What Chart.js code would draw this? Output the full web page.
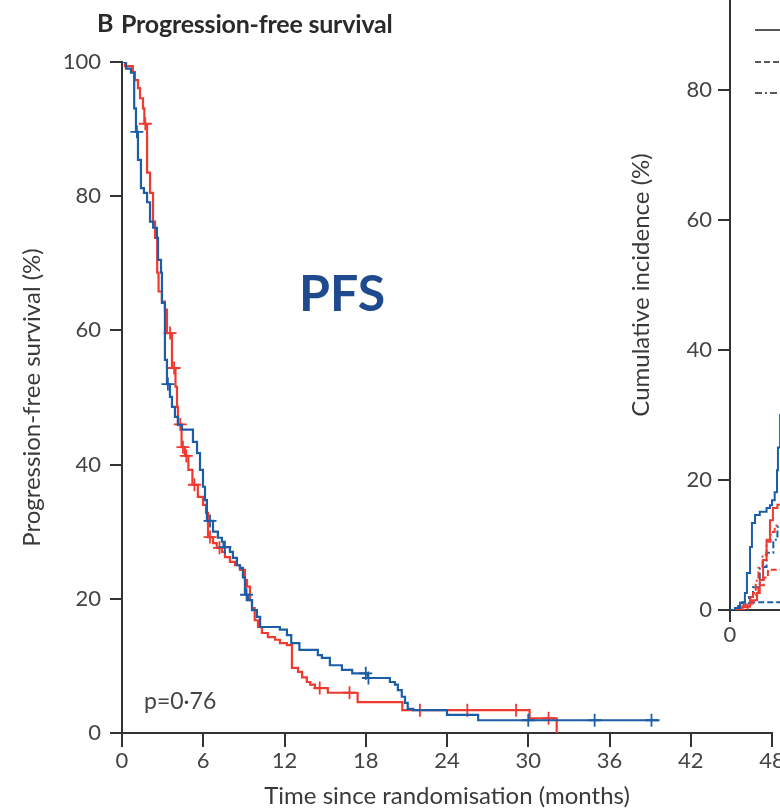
<!DOCTYPE html>
<html><head><meta charset="utf-8">
<script src="https://cdn.jsdelivr.net/npm/chart.js@4.4.1/dist/chart.umd.min.js"></script>
<style>
html,body{margin:0;padding:0;background:#fff;overflow:hidden;}
#wrap{position:relative;width:780px;height:812px;overflow:hidden;background:#fff;}
canvas{position:absolute;}
#c1{left:0;top:0;}
#c2{left:620px;top:-80px;}
.txt{position:absolute;white-space:nowrap;font-family:Lato,"Open Sans",sans-serif;line-height:1;}
#panel{left:97px;top:10px;font-size:25px;font-weight:bold;color:#2a2a2a;}
#ptitle{left:121px;top:11px;font-size:25px;font-weight:bold;color:#2a2a2a;letter-spacing:-0.2px;}
#pfs{left:299px;top:267px;font-size:50px;font-weight:bold;color:#1f4b8e;}
#pval{left:144px;top:689px;font-size:23px;color:#444;}
</style></head><body>
<div id="wrap">
<canvas id="c1" width="820" height="812"></canvas>
<canvas id="c2" width="800" height="740"></canvas>
<div class="txt" id="panel">B</div>
<div class="txt" id="ptitle">Progression-free survival</div>
<div class="txt" id="pfs">PFS</div>
<div class="txt" id="pval">p=0·76</div>
</div>
<script>
// ---------- Panel B: progression-free survival (Kaplan–Meier) ----------
const xTicks = [0, 6, 12, 18, 24, 30, 36, 42, 48];
const yTicks = [0, 20, 40, 60, 80, 100];

const blueTimes = [0,0.3,0.66,0.9,1.03,1.18,1.4,1.62,1.85,2.07,2.3,2.58,2.66,2.88,2.95,3.17,3.32,3.54,3.69,3.91,4.13,4.43,5.24,5.54,5.76,5.98,6.13,6.27,6.72,7.08,7.38,7.5,7.97,8.19,8.49,8.71,8.93,9.08,9.3,9.6,9.96,10.2,11.66,12.18,12.5,13.1,14.46,14.76,15.35,16.24,17.0,18.15,19.78,20.15,20.37,20.66,20.9,21.1,21.5,24.0,26.3,39.7];
const blueSurv  = [100,99.0,98.4,93.1,89.6,85.4,81.2,80.5,79.1,76.2,75.3,73.8,70.5,68.6,64.1,55.6,52.0,50.1,48.6,47.1,45.9,45.2,43.4,41.7,39.2,36.7,34.7,31.6,30.0,29.1,28.5,27.7,27.0,26.1,25.0,24.6,23.2,20.6,19.8,18.3,17.3,15.8,15.4,14.6,13.4,12.4,11.6,11.2,10.1,9.4,8.9,8.2,7.6,7.2,6.4,5.4,4.5,3.6,3.4,2.7,1.9,1.9];
const blueCensorTimes = [1.1,3.39,6.5,7.6,9.2,18.0,18.2,30.0,34.9,39.1];
const blueCensorSurv  = [89.6,52.0,31.6,27.7,20.6,8.9,8.2,1.9,1.9,1.9];

const redTimes = [0,0.22,0.8,0.95,1.18,1.33,1.55,1.65,1.85,2.07,2.29,2.44,2.6,2.7,2.95,3.17,3.32,3.69,3.95,4.06,4.13,4.4,4.65,4.9,5.2,5.6,5.98,6.2,6.35,6.72,7.0,7.38,7.6,7.97,8.34,8.71,9.08,9.23,9.45,9.6,9.8,10.04,10.33,10.77,11.3,11.66,12.18,12.55,13.0,13.3,13.65,13.9,14.25,15.2,17.4,20.7,30.1,32.1];
const redSurv  = [100,99.4,98.5,97.3,96.1,94.6,93.1,90.8,83.5,80.5,76.2,73.8,68.6,65.8,64.3,63.1,59.6,54.4,51.6,48.6,46.0,42.6,41.3,39.2,37.0,35.2,34.0,32.8,29.2,28.3,27.6,27.0,26.2,25.5,25.0,24.3,22.8,21.8,19.8,18.6,16.8,15.8,14.9,14.3,13.9,13.4,13.1,9.7,9.1,8.3,7.6,7.2,6.7,6.0,4.6,3.4,2.2,0];
const redCensorTimes = [1.72,3.55,3.85,4.3,4.5,4.75,5.35,6.5,7.2,14.6,16.8,22.0,25.5,29.1,31.5];
const redCensorSurv  = [90.8,59.6,54.4,46.0,42.6,41.3,37.0,29.2,27.6,6.7,6.0,3.4,3.4,3.4,2.2];

// ---------- Neighbouring panel (cumulative incidence), only its left edge is visible ----------
const ciTicksY = [0, 20, 40, 60, 80, 100];
const ciTicksX = [0, 6, 12, 18, 24, 30, 36, 42, 48];
const ciBlueSolidT = [0,0.37,0.74,1.1,1.25,1.48,1.62,1.85,2.2,2.7,2.95,3.1,3.3,3.47,3.54,3.7,4.2];
const ciBlueSolidV = [0,0.3,1.1,2.6,5.7,9.7,13.4,14.6,15.1,15.7,16.1,16.9,18.1,21.5,25.0,30.0,31.0];
const ciRedSolidT  = [0,0.9,1.48,2.0,2.2,2.44,2.7,2.95,3.17,3.5,4.2];
const ciRedSolidV  = [0,0.5,1.5,2.6,4.6,7.7,10.8,13.8,15.7,16.2,16.5];
const ciRedDashT   = [0,1.3,1.7,2.1,2.5,2.8,4.2];
const ciRedDashV   = [0,1.0,2.6,3.8,5.0,6.2,6.2];
const ciRedDotT    = [0,1.0,1.5,1.9,2.1,2.4,2.7,3.0,3.3,4.2];
const ciRedDotV    = [0,0.8,2.0,4.5,6.5,8.5,10.5,12.0,13.0,13.5];
const ciBlueDashT  = [0,0.6,0.9,4.2];
const ciBlueDashV  = [0,0.6,1.2,1.2];
const ciBlueDotT   = [0,0.8,1.4,1.7,2.2,2.7,3.2,3.5,4.2];
const ciBlueDotV   = [0,0.5,2.0,3.5,6.6,8.8,10.8,12.8,13.5];

const RED = '#f03a30', BLUE = '#1b5ea6', AXIS = '#333333', TICK = '#444444';
const FONT = {family: 'Lato, "Open Sans", sans-serif', size: 22};
const TFONT = {family: 'Lato, "Open Sans", sans-serif', size: 24};
const pts = (t, v) => t.map((x, i) => ({x, y: v[i]}));

Chart.defaults.animation = false;

function kmLine(label, t, v, color, order) {
  return {type: 'line', label, data: pts(t, v), stepped: true, borderColor: color,
    borderWidth: 2.2, pointRadius: 0, fill: false, order};
}
function censor(label, t, v, color, order) {
  return {type: 'scatter', label, data: pts(t, v), showLine: false, pointStyle: 'cross',
    pointRadius: 6.5, pointBorderWidth: 1.8, borderColor: color, backgroundColor: color, order};
}

new Chart(document.getElementById('c1'), {
  type: 'line',
  data: {datasets: [
    kmLine('Blue arm', blueTimes, blueSurv, BLUE, 0),
    censor('Blue censored', blueCensorTimes, blueCensorSurv, BLUE, 1),
    kmLine('Red arm', redTimes, redSurv, RED, 2),
    censor('Red censored', redCensorTimes, redCensorSurv, RED, 3)
  ]},
  options: {
    responsive: false, events: [],
    layout: {padding: {left: 0, top: 62, right: 48, bottom: 0}},
    plugins: {legend: {display: false}, tooltip: {enabled: false}},
    scales: {
      x: {type: 'linear', min: 0, max: 48,
        afterBuildTicks: s => { s.ticks = xTicks.map(v => ({value: v})); },
        afterFit: s => { s.height = 79; },
        ticks: {font: FONT, color: TICK, padding: 1, maxRotation: 0, autoSkip: false},
        grid: {drawOnChartArea: false, drawTicks: true, tickLength: 14, color: AXIS, lineWidth: 2},
        border: {display: true, color: AXIS, width: 2},
        title: {display: true, text: 'Time since randomisation (months)', font: TFONT, color: '#3a3a3a', padding: {top: 0, bottom: 1}}
      },
      y: {type: 'linear', min: 0, max: 100,
        afterBuildTicks: s => { s.ticks = yTicks.map(v => ({value: v})); },
        afterFit: s => { s.width = 122; },
        ticks: {font: FONT, color: TICK, padding: 9, autoSkip: false},
        grid: {drawOnChartArea: false, drawTicks: true, tickLength: 12, color: AXIS, lineWidth: 2},
        border: {display: true, color: AXIS, width: 2},
        title: {display: true, text: 'Progression-free survival (%)', font: TFONT, color: '#3a3a3a', padding: {top: 18, bottom: 0}}
      }
    }
  }
});

const legendSamples = {
  id: 'legendSamples',
  afterDraw(chart) {
    const ctx = chart.ctx;
    const x0 = chart.chartArea.left + 25, x1 = x0 + 60;
    const rows = [[110, []], [142, [6, 3]], [173, [7, 3, 2, 3]]];
    ctx.save();
    ctx.strokeStyle = '#222'; ctx.lineWidth = 1.6;
    rows.forEach(([y, dash]) => {
      ctx.setLineDash(dash); ctx.beginPath(); ctx.moveTo(x0, y); ctx.lineTo(x1, y); ctx.stroke();
    });
    ctx.restore();
  }
};

function ciLine(label, t, v, color, dash) {
  return {type: 'line', label, data: pts(t, v), stepped: true, borderColor: color,
    borderWidth: 2, borderDash: dash, pointRadius: 0, fill: false};
}

new Chart(document.getElementById('c2'), {
  type: 'line',
  data: {datasets: [
    ciLine('Blue solid', ciBlueSolidT, ciBlueSolidV, BLUE, []),
    ciLine('Red solid', ciRedSolidT, ciRedSolidV, RED, []),
    ciLine('Red dashed', ciRedDashT, ciRedDashV, RED, [6, 3]),
    ciLine('Red dash-dot', ciRedDotT, ciRedDotV, RED, [7, 3, 2, 3]),
    ciLine('Blue dashed', ciBlueDashT, ciBlueDashV, BLUE, [6, 3]),
    ciLine('Blue dash-dot', ciBlueDotT, ciBlueDotV, BLUE, [7, 3, 2, 3])
  ]},
  plugins: [legendSamples],
  options: {
    responsive: false, events: [],
    layout: {padding: {left: 0, top: 40, right: 40, bottom: 0}},
    plugins: {legend: {display: false}, tooltip: {enabled: false}},
    scales: {
      x: {type: 'linear', min: 0, max: 48,
        afterBuildTicks: s => { s.ticks = ciTicksX.map(v => ({value: v})); },
        afterFit: s => { s.height = 50; },
        ticks: {font: FONT, color: TICK, padding: 0, maxRotation: 0, autoSkip: false},
        grid: {drawOnChartArea: false, drawTicks: true, tickLength: 12, color: AXIS, lineWidth: 2},
        border: {display: true, color: AXIS, width: 2}
      },
      y: {type: 'linear', min: 0, max: 100,
        afterBuildTicks: s => { s.ticks = ciTicksY.map(v => ({value: v})); },
        afterFit: s => { s.width = 110; },
        ticks: {font: FONT, color: TICK, padding: 6, autoSkip: false},
        grid: {drawOnChartArea: false, drawTicks: true, tickLength: 12, color: AXIS, lineWidth: 2},
        border: {display: true, color: AXIS, width: 2},
        title: {display: true, text: 'Cumulative incidence (%)', font: TFONT, color: '#3a3a3a', padding: {top: 7, bottom: 0}}
      }
    }
  }
});
</script>
</body></html>
